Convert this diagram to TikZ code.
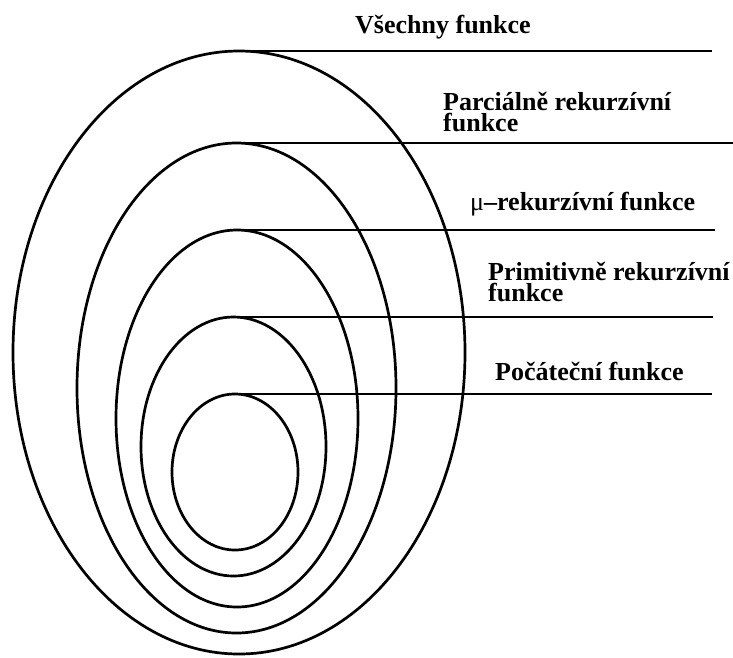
\documentclass[tikz,border=0pt]{standalone}
\usepackage{fontspec}
\setmainfont{Liberation Serif}
\usetikzlibrary{shapes.geometric}
\begin{document}
\begin{tikzpicture}[x=1pt,y=-1pt,
  ring/.style={draw,ellipse,line width=2.7pt,inner sep=0pt,outer sep=0pt},
  rule/.style={line width=2.8pt},
  lab/.style={anchor=base west,inner sep=0pt,font=\fontsize{26}{20}\selectfont\bfseries}]
\useasboundingbox (0,0) rectangle (733,657);
\node[ring,minimum width=452pt,minimum height=603pt] (e1) at (239,352.5) {};
\node[ring,minimum width=319pt,minimum height=490pt] (e2) at (236.5,388) {};
\node[ring,minimum width=242pt,minimum height=377pt] (e3) at (237,418.5) {};
\node[ring,minimum width=185pt,minimum height=259pt] (e4) at (233.5,446.5) {};
\node[ring,minimum width=126pt,minimum height=156pt] (e5) at (235,472) {};
\coordinate (r1) at (712,50);
\coordinate (r2) at (733,142);
\coordinate (r3) at (715,229);
\coordinate (r4) at (713,316);
\coordinate (r5) at (712,393);
\draw[rule] (e1.north -| 233,0) -- (e1.north -| r1);
\draw[rule] (e2.north -| 233,0) -- (e2.north -| r2);
\draw[rule] (e3.north -| 233,0) -- (e3.north -| r3);
\draw[rule] (e4.north -| 233,0) -- (e4.north -| r4);
\draw[rule] (e5.north -| 233,0) -- (e5.north -| r5);
\node[lab] (t1) at (355,33) {Všechny funkce};
\node[lab] (t2) at (443,110) {\vtop{\baselineskip=21pt\hbox{Parciálně rekurzívní}\hbox{funkce}}};
\node[lab] (t3) at (470,210) {{\mdseries μ}–rekurzívní funkce};
\node[lab] (t4) at (488,280) {\vtop{\baselineskip=21pt\hbox{Primitivně rekurzívní}\hbox{funkce}}};
\node[lab] (t5) at (495,380) {Počáteční funkce};
\end{tikzpicture}
\end{document}
